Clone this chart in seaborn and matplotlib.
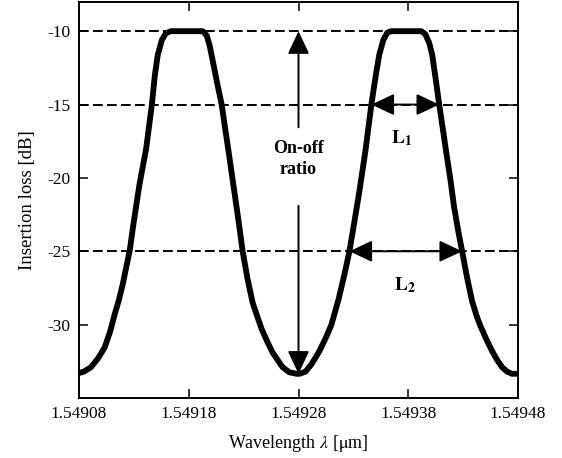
import matplotlib
matplotlib.use('Agg')
import matplotlib.pyplot as plt
import seaborn as sns
from matplotlib.ticker import FuncFormatter

# valores (comprimento de onda em um, perda em dB)
wavelength = [
    # pico da esquerda, subida
    1.5490800, 1.5490845, 1.5490909, 1.5490973, 1.5491034, 1.5491082, 1.5491125,
    1.5491164, 1.5491200, 1.5491227, 1.5491261, 1.5491291, 1.5491323, 1.5491352,
    1.5491382, 1.5491412, 1.5491436, 1.5491464, 1.5491491, 1.5491518, 1.5491555,
    1.5491591, 1.5491636,
    # pico da esquerda, descida
    1.5491927, 1.5491964, 1.5491991, 1.5492018, 1.5492055, 1.5492100, 1.5492127,
    1.5492155, 1.5492182, 1.5492209, 1.5492255, 1.5492291, 1.5492336, 1.5492382,
    1.5492427, 1.5492464, 1.5492518, 1.5492564, 1.5492609, 1.5492655, 1.5492718,
    1.5492782,
    # pico da direita, subida
    1.5492809, 1.5492864, 1.5492918, 1.5492991, 1.5493055, 1.5493100, 1.5493164,
    1.5493218, 1.5493264, 1.5493309, 1.5493355, 1.5493409, 1.5493464, 1.5493500,
    1.5493536, 1.5493573, 1.5493609, 1.5493646,
    # pico da direita, descida
    1.5493918, 1.5493955, 1.5493991, 1.5494018, 1.5494045, 1.5494082, 1.5494118,
    1.5494145, 1.5494182, 1.5494218, 1.5494255, 1.5494291, 1.5494336, 1.5494382,
    1.5494427, 1.5494464, 1.5494518, 1.5494564, 1.5494609, 1.5494655, 1.5494700,
    1.5494745, 1.5494800,
]
insertion_loss = [
    -33.3, -33.2, -32.9, -32.3, -31.55, -30.5, -29.3,
    -28.3, -27.2, -26.2, -25.0, -23.4, -21.8, -20.4,
    -19.2, -18.0, -16.6, -15.0, -13.0, -11.6, -10.6,
    -10.15, -10.0,
    -10.0, -10.3, -11.0, -12.0, -13.4, -15.0, -16.4,
    -17.8, -19.2, -20.6, -23.0, -25.0, -26.9, -28.5,
    -29.5, -30.3, -31.2, -31.9, -32.4, -32.9, -33.25,
    -33.35,
    -33.35, -33.2, -32.7, -31.8, -30.8, -30.0, -28.3,
    -26.6, -25.0, -23.0, -20.9, -18.2, -15.0, -13.2,
    -11.6, -10.6, -10.1, -10.0,
    -10.0, -10.2, -10.8, -11.6, -13.0, -15.0, -16.8,
    -18.2, -20.0, -22.0, -23.6, -25.0, -26.8, -28.4,
    -29.5, -30.2, -31.1, -31.8, -32.4, -32.9, -33.2,
    -33.35, -33.35,
]

dashed_levels = [-10, -15, -25]
x_ticks = [1.54908, 1.54918, 1.54928, 1.54938, 1.54948]
y_ticks = [-10, -15, -20, -25, -30]

# setas de anotacao
onoff_x = 1.54928
onoff_top, onoff_bottom = -10.0, -33.35
onoff_gap = (-16.55, -21.9)
l1_level, l1_left, l1_right = -15, 1.5493464, 1.5494082
l2_level, l2_left, l2_right = -25, 1.5493264, 1.5494291

sns.set_style('ticks')
plt.rcParams['font.family'] = ['Liberation Serif', 'DejaVu Serif']
plt.rcParams['mathtext.fontset'] = 'stix'
plt.rcParams['axes.unicode_minus'] = False
plt.rcParams['text.color'] = 'black'
plt.rcParams['axes.labelcolor'] = 'black'

fig = plt.figure(figsize=(5.62, 4.58), dpi=100)
ax = fig.add_axes([0.1406, 0.131, 0.7811, 0.8650])

for lvl in dashed_levels:
    ax.axhline(lvl, color='black', lw=1.4, dashes=(5, 2.2), zorder=1)

sns.lineplot(x=wavelength, y=insertion_loss, sort=False, estimator=None,
             color='black', lw=4.2, ax=ax, zorder=3,
             solid_joinstyle='round', solid_capstyle='round')

arrow = dict(arrowstyle='-|>,head_length=0.7,head_width=0.33', mutation_scale=20,
             lw=1.4, color='black', shrinkA=0, shrinkB=0)
arrow2 = dict(arrow, arrowstyle='<|-|>,head_length=0.7,head_width=0.33')

ax.annotate('', xy=(onoff_x, onoff_top), xytext=(onoff_x, onoff_gap[0]), arrowprops=arrow)
ax.annotate('', xy=(onoff_x, onoff_bottom), xytext=(onoff_x, onoff_gap[1]), arrowprops=arrow)
ax.text(onoff_x, -18.7, 'On-off\nratio', ha='center', va='center',
        fontsize=13, fontweight='bold', linespacing=1.3)

ax.annotate('', xy=(l1_left, l1_level), xytext=(l1_right, l1_level), arrowprops=arrow2)
ax.annotate('', xy=(l2_left, l2_level), xytext=(l2_right, l2_level), arrowprops=arrow2)
ax.text(1.5493736, -17.3, r'$\mathbf{L}_{\mathbf{1}}$', ha='center', va='center', fontsize=14)
ax.text(1.5493773, -27.3, r'$\mathbf{L}_{\mathbf{2}}$', ha='center', va='center', fontsize=14)

ax.set_xlim(x_ticks[0], x_ticks[-1])
ax.set_ylim(-35, -8)
ax.set_xticks(x_ticks)
ax.set_yticks(y_ticks)
ax.xaxis.set_major_formatter(FuncFormatter(lambda v, p: f'{v:.5f}'))
ax.yaxis.set_major_formatter(FuncFormatter(lambda v, p: f'{v:.0f}'))
ax.tick_params(direction='in', length=6.5, width=1.1, top=True, right=True,
               labelsize=12.5, colors='black', pad=6)

for s in ax.spines.values():
    s.set_linewidth(1.4)
    s.set_color('black')

ax.set_xlabel(r'Wavelength $\lambda$ [$\mathrm{\mu}$m]', fontsize=13, labelpad=8)
ax.set_ylabel('Insertion loss [dB]', fontsize=13.5, labelpad=8)

fig.savefig('out.png', dpi=100)
